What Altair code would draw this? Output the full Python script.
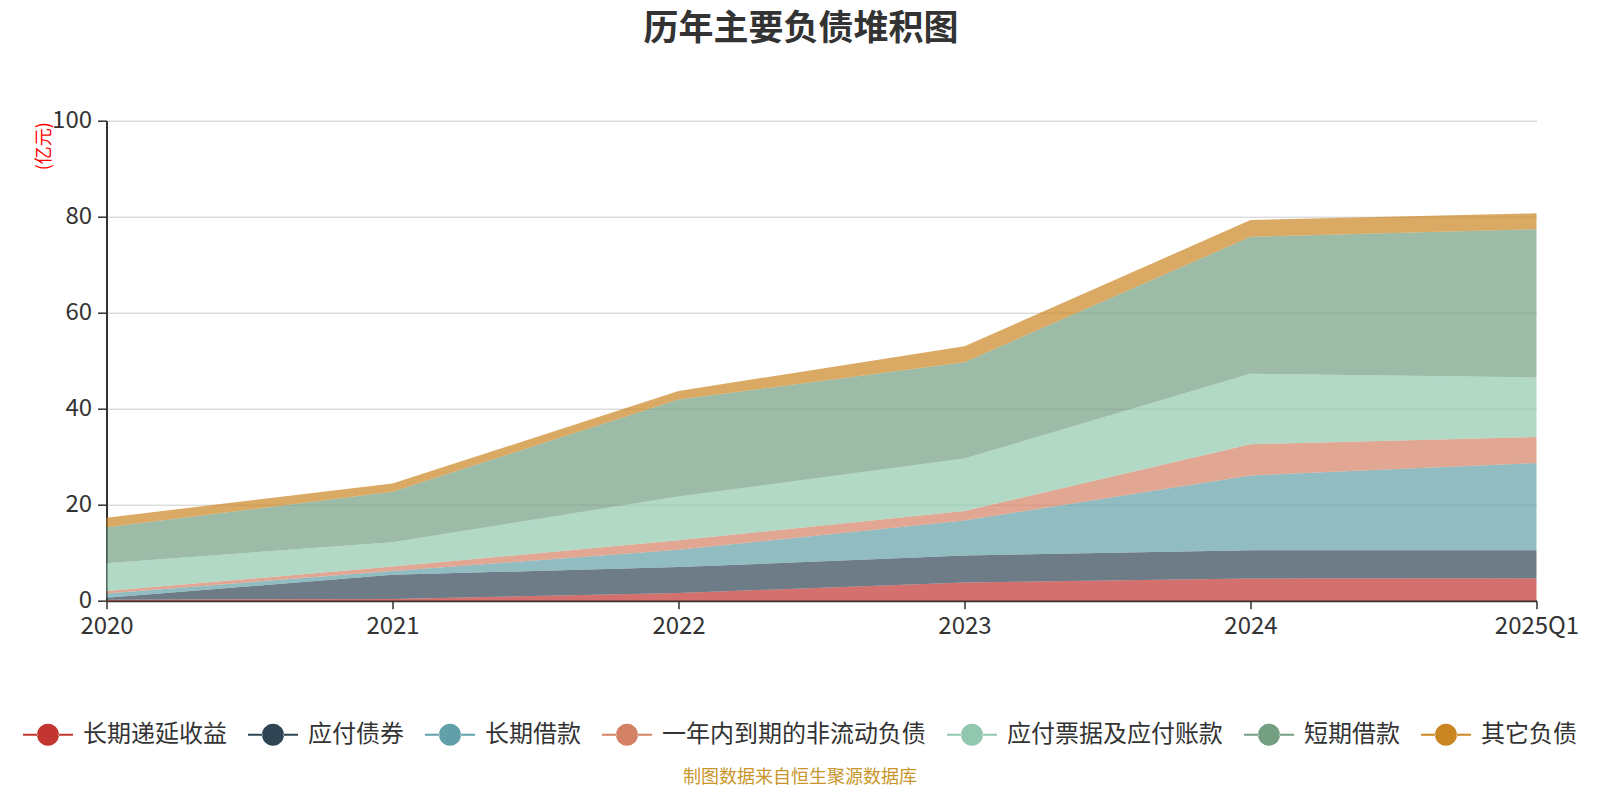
import altair as alt
import pandas as pd

years = ["2020", "2021", "2022", "2023", "2024", "2025Q1"]
series_names = ["长期递延收益", "应付债券", "长期借款", "一年内到期的非流动负债",
                "应付票据及应付账款", "短期借款", "其它负债"]
colors = ["#c23531", "#2f4554", "#61a0a8", "#d48265", "#91c7ae", "#749f83", "#ca8622"]

deferred_income = [0.2, 0.35, 1.6, 3.8, 4.6, 4.7]
bonds_payable = [0.4, 5.05, 5.4, 5.6, 5.9, 5.8]
long_term_loans = [0.9, 0.8, 3.6, 7.3, 15.6, 18.2]
current_noncurrent = [0.5, 0.9, 2.0, 2.0, 6.5, 5.4]
notes_accounts_payable = [5.8, 5.1, 9.1, 10.9, 14.7, 12.4]
short_term_loans = [7.5, 10.5, 20.2, 20.1, 28.5, 30.9]
other_liabilities = [2.0, 1.7, 1.8, 3.3, 3.5, 3.3]

series_values = [deferred_income, bonds_payable, long_term_loans, current_noncurrent,
                 notes_accounts_payable, short_term_loans, other_liabilities]

rows = []
for i, (name, vals) in enumerate(zip(series_names, series_values)):
    for y, v in zip(years, vals):
        rows.append({"year": y, "series": name, "value": v, "idx": i})
df = pd.DataFrame(rows)

legend_symbol = ("M-1,-0.04H-0.42V0.04H-1Z M0.42,-0.04H1V0.04H0.42Z "
                 "M-0.44,0A0.44,0.44,0,1,0,0.44,0A0.44,0.44,0,1,0,-0.44,0Z")

chart = alt.Chart(df).mark_area(opacity=0.7, interpolate="linear").encode(
    x=alt.X("year:O", sort=years,
            scale=alt.Scale(type="point", padding=0),
            axis=alt.Axis(title="制图数据来自恒生聚源数据库", labelAngle=0,
                          labelFontSize=24, labelColor="#333333", labelPadding=6,
                          domainColor="#333333", domainWidth=2,
                          tickColor="#333333", tickWidth=1.5, tickSize=8,
                          grid=False,
                          titleX=693, titleY=177, titleAlign="center",
                          titleBaseline="middle", titleFontSize=18,
                          titleFontWeight="normal", titleColor="#c9962a")),
    y=alt.Y("value:Q", stack="zero",
            scale=alt.Scale(domain=[0, 100], nice=False),
            axis=alt.Axis(title="(亿元)", values=[0, 20, 40, 60, 80, 100],
                          labelFontSize=24, labelColor="#333333", labelPadding=6,
                          domainColor="#333333", domainWidth=2,
                          tickColor="#333333", tickWidth=1.5, tickSize=9,
                          gridColor="#cccccc", gridWidth=1,
                          titleX=-62, titleY=1, titleAngle=270,
                          titleAlign="right", titleBaseline="middle",
                          titleFontSize=18, titleFontWeight="normal",
                          titleColor="#ff0000")),
    color=alt.Color("series:N",
                    scale=alt.Scale(domain=series_names, range=colors),
                    legend=alt.Legend(title=None, orient="none", direction="horizontal",
                                      legendX=-83.5, legendY=589,
                                      symbolType=legend_symbol, symbolSize=2500,
                                      symbolOpacity=1, symbolStrokeWidth=0,
                                      labelFontSize=24, labelColor="#333333",
                                      labelOffset=10, labelLimit=400,
                                      columnPadding=21)),
    order=alt.Order("idx:Q", sort="ascending"),
).properties(
    width=1430,
    height=480,
    autosize=alt.AutoSizeParams(type="none"),
    padding={"left": 98.5, "top": 112.7, "right": 55, "bottom": 190.5},
    title=alt.TitleParams("历年主要负债堆积图", anchor="middle", frame="group",
                          dx=-20.5, offset=62, fontSize=35, fontWeight="bold",
                          color="#333333"),
).configure(
    font="Noto Sans CJK SC"
).configure_view(
    strokeWidth=0
)

chart.save("out.html", embed_options={"renderer": "svg", "actions": False})
